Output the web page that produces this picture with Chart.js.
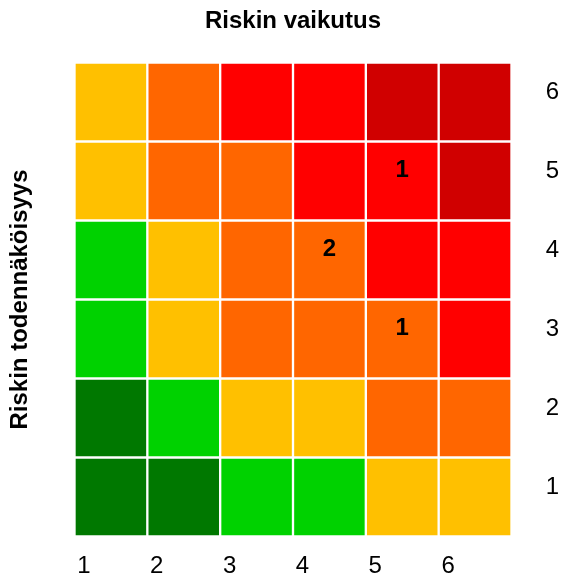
<!DOCTYPE html>
<html>
<head>
<meta charset="utf-8">
<title>Riskimatriisi</title>
<script src="https://cdn.jsdelivr.net/npm/chart.js@4"></script>
<style>
  body { margin: 0; background: #ffffff; }
  canvas { display: block; }
</style>
</head>
<body>
<canvas id="risk-chart" width="568" height="588"></canvas>
<script>
// Axis categories
const impactLabels = ['1', '2', '3', '4', '5', '6'];
const probabilityLabels = ['1', '2', '3', '4', '5', '6'];

// Risk level of each cell, one row per probability (1 = bottom row)
const riskLevelRow1 = [1, 1, 2, 2, 3, 3];
const riskLevelRow2 = [1, 2, 3, 3, 4, 4];
const riskLevelRow3 = [2, 3, 4, 4, 4, 5];
const riskLevelRow4 = [2, 3, 4, 4, 5, 5];
const riskLevelRow5 = [3, 4, 4, 5, 5, 6];
const riskLevelRow6 = [3, 4, 5, 5, 6, 6];
const riskLevels = [riskLevelRow1, riskLevelRow2, riskLevelRow3, riskLevelRow4, riskLevelRow5, riskLevelRow6];

// Number of risks in a cell
const countImpact = [5, 4, 5];
const countProbability = [5, 4, 3];
const countValues = [1, 2, 1];

// Colours per risk level
const levelColors = {
    1: '#007800',
    2: '#00d200',
    3: '#ffc000',
    4: '#ff6600',
    5: '#ff0000',
    6: '#d00000'
};

const FONT = "'Liberation Sans', Arial, sans-serif";

const datasets = riskLevels.map((row, r) => ({
    label: probabilityLabels[r],
    data: row.map(() => [r, r + 1]),
    backgroundColor: row.map(level => levelColors[level]),
    borderColor: '#ffffff',
    borderWidth: 1.5,
    borderSkipped: false,
    grouped: false,
    barPercentage: 1,
    categoryPercentage: 1
}));

// Writes the counts in the cells
const countLabels = {
    id: 'countLabels',
    afterDatasetsDraw(chart) {
        const ctx = chart.ctx;
        const x = chart.scales.x;
        const y = chart.scales.y;
        ctx.save();
        ctx.font = 'bold 24px ' + FONT;
        ctx.fillStyle = '#000000';
        ctx.textAlign = 'center';
        ctx.textBaseline = 'middle';
        countValues.forEach((v, i) => {
            const px = x.getPixelForValue(countImpact[i] - 1);
            const py = y.getPixelForValue(countProbability[i] - 0.5) - 11;
            ctx.fillText(String(v), px, py);
        });
        ctx.restore();
    }
};

new Chart(document.getElementById('risk-chart'), {
    type: 'bar',
    data: {
        labels: impactLabels,
        datasets: datasets
    },
    options: {
        responsive: false,
        devicePixelRatio: 1,
        animation: false,
        layout: { padding: 0 },
        plugins: {
            legend: { display: false },
            tooltip: { enabled: false }
        },
        scales: {
            x: {
                type: 'category',
                grid: { display: false, drawTicks: false },
                border: { display: false },
                ticks: {
                    color: '#000000',
                    font: { family: FONT, size: 24 },
                    padding: 15.8,
                    labelOffset: -27,
                    maxRotation: 0
                },
                afterFit(axis) { axis.height = 51.5; }
            },
            xTitle: {
                type: 'category',
                position: 'top',
                grid: { display: false, drawTicks: false },
                border: { display: false },
                ticks: { display: false },
                title: {
                    display: true,
                    text: 'Riskin vaikutus',
                    color: '#000000',
                    font: { family: FONT, size: 24, weight: 'bold' },
                    padding: { top: 7, bottom: 0 }
                },
                afterFit(axis) { axis.height = 62.5; }
            },
            y: {
                type: 'linear',
                position: 'right',
                min: 0,
                max: 6,
                grid: { display: false, drawTicks: false },
                border: { display: false },
                afterBuildTicks(axis) {
                    axis.ticks = probabilityLabels.map((_, i) => ({ value: i + 0.5 }));
                },
                ticks: {
                    color: '#000000',
                    font: { family: FONT, size: 24 },
                    padding: 34.3,
                    labelOffset: -10,
                    callback: (value, index) => probabilityLabels[index]
                },
                afterFit(axis) { axis.width = 56.5; }
            },
            yTitle: {
                type: 'linear',
                position: 'left',
                min: 0,
                max: 6,
                grid: { display: false, drawTicks: false },
                border: { display: false },
                ticks: { display: false },
                title: {
                    display: true,
                    text: 'Riskin todennäköisyys',
                    color: '#000000',
                    font: { family: FONT, size: 24, weight: 'bold' },
                    padding: { top: 5.6, bottom: 0 }
                },
                afterFit(axis) { axis.width = 74.5; }
            }
        }
    },
    plugins: [countLabels]
});
</script>
</body>
</html>
